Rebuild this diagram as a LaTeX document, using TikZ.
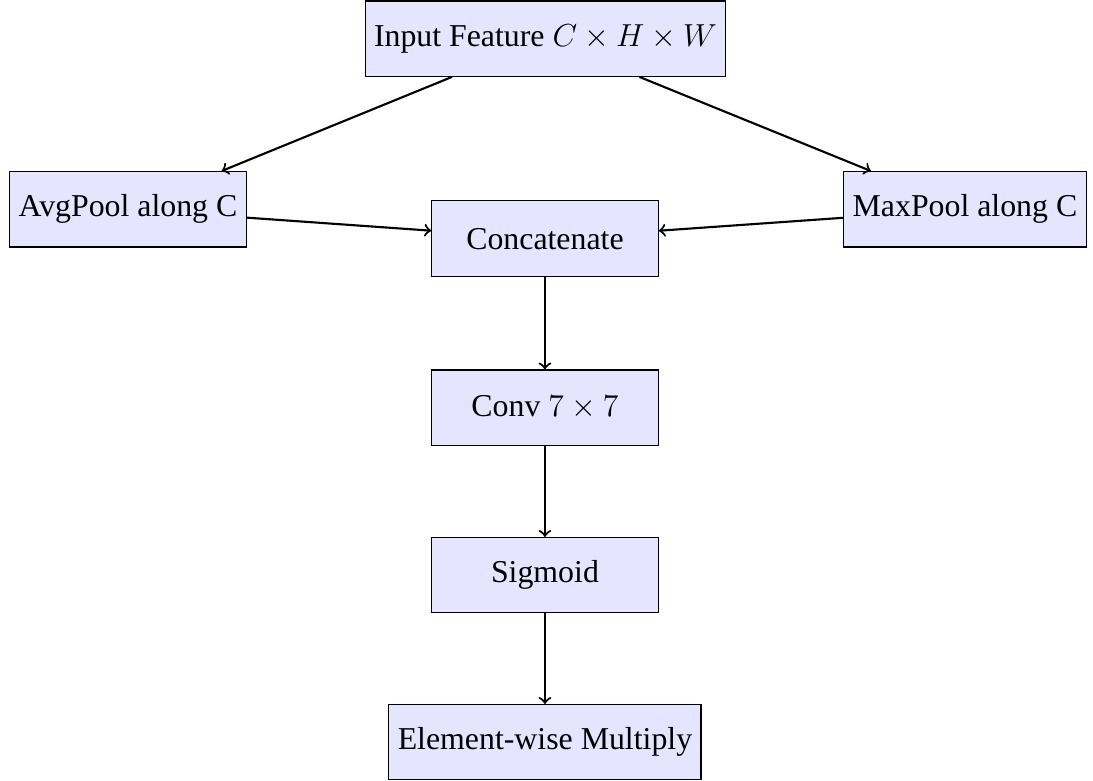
\documentclass[tikz,border=0pt]{standalone}
\usepackage{fontspec}
\setmainfont{Liberation Serif}
\usetikzlibrary{arrows}
\begin{document}
\begin{tikzpicture}[
  box/.style={draw, fill=blue!10, minimum width=3cm, minimum height=1cm, font=\fontsize{12}{14}\selectfont, inner sep=0.3333em},
  conn/.style={->, thick}
]
\useasboundingbox (0,0.01) rectangle (14.483,-10.335);
\node[box] (in) at (7.228,-0.503) {Input Feature $C \times H \times W$};
\node[box] (avg) at (1.696,-2.763) {AvgPool along C};
\node[box] (max) at (12.786,-2.763) {MaxPool along C};
\node[box] (cat) at (7.221,-3.153) {Concatenate};
\node[box] (conv) at (7.221,-5.393) {Conv $7 \times 7$};
\node[box] (sig) at (7.221,-7.612) {Sigmoid};
\node[box] (mul) at (7.221,-9.825) {Element-wise Multiply};
\draw[conn] (in) -- (avg);
\draw[conn] (in) -- (max);
\draw[conn] (avg) -- (cat);
\draw[conn] (max) -- (cat);
\draw[conn] (cat) -- (conv);
\draw[conn] (conv) -- (sig);
\draw[conn] (sig) -- (mul);
\end{tikzpicture}
\end{document}
